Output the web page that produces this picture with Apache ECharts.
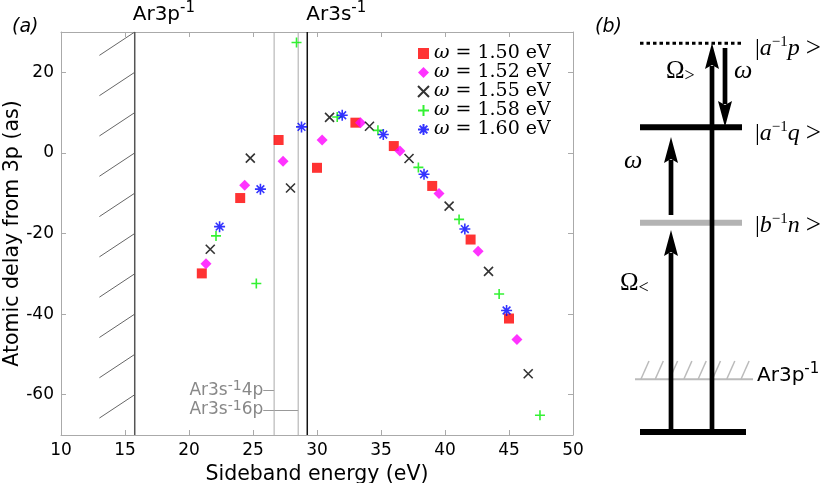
<!DOCTYPE html>
<html><head><meta charset="utf-8">
<script src="https://cdn.jsdelivr.net/npm/echarts@6/dist/echarts.min.js"></script>
<style>html,body{margin:0;padding:0;background:#fff}#c{width:831px;height:483px}</style>
</head><body><div id="c"></div>
<script>
// ---- data ----
const omegaLabels = ['1.50', '1.52', '1.55', '1.58', '1.60'];
const e150 = [21.0, 24.0, 27.0, 30.0, 33.0, 36.0, 39.0, 42.0, 45.0];
const d150 = [-29.9, -11.2, 3.2, -3.7, 7.5, 1.7, -8.2, -21.5, -41.1];
const e152 = [21.33, 24.35, 27.35, 30.4, 33.4, 36.48, 39.53, 42.59, 45.62];
const d152 = [-27.5, -8.0, -2.1, 3.2, 7.5, 0.5, -10.1, -24.4, -46.3];
const e155 = [21.66, 24.79, 27.93, 30.98, 34.1, 37.19, 40.32, 43.4, 46.5];
const d155 = [-23.9, -1.3, -8.7, 8.8, 6.6, -1.4, -13.2, -29.4, -54.8];
const e158 = [22.11, 25.26, 28.4, 31.58, 34.76, 37.92, 41.1, 44.23, 47.42];
const d158 = [-20.6, -32.4, 27.4, 8.9, 5.6, -3.6, -16.5, -35.0, -65.1];
const e160 = [22.39, 25.58, 28.79, 31.97, 35.18, 38.36, 41.55, 44.81];
const d160 = [-18.3, -9.0, 6.45, 9.35, 4.55, -5.3, -18.9, -39.1];
const thresholdX = [15.76, 29.24];        // Ar3p^-1, Ar3s^-1
const rydbergX = [26.65, 28.53];          // Ar3s^-1 4p, Ar3s^-1 6p
const rydbergLabelY = [-59.0, -63.8];
const rydbergLabelX = 25.8;
const hatchTops = [30, 20, 10, 0, -10, -20, -30, -40, -50, -60];
const yTicks = [-60, -40, -20, 0, 20];

// ---- chart ----
const chart = echarts.init(document.getElementById('c'));
const SANS = 'DejaVu Sans';
const SERIF = 'Liberation Serif';
const LSERIF = 'DejaVu Serif';
const colors = ['#ff0000', '#ff00ff', '#000000', '#00ee00', '#0000ff'];
const symbols = ['rect', 'diamond',
  'path://M0,0L10,10M10,0L0,10',
  'path://M5,0L5,10M0,5L10,5',
  'path://M5,0L5,10M0,5L10,5M1.5,1.5L8.5,8.5M8.5,1.5L1.5,8.5'];
const sizes = [10, 11, 9, 10, 11];
const xs = [e150, e152, e155, e158, e160];
const ys = [d150, d152, d155, d158, d160];

const scatterSeries = omegaLabels.map((w, i) => {
  const stroked = i >= 2;
  return {
    type: 'scatter', name: w,
    data: xs[i].map((x, k) => [x, ys[i][k]]),
    symbol: symbols[i], symbolSize: sizes[i], z: 5,
    itemStyle: stroked ? { color: 'rgba(0,0,0,0)', borderColor: colors[i], borderWidth: 1.6 }
                       : { color: colors[i] }
  };
});

const vline = (x, color, width) => ({
  type: 'line', data: [[x, -70], [x, 30]], symbol: 'none', silent: true, z: 2,
  lineStyle: { color: color, width: width }, animation: false
});

const axisCommon = {
  type: 'value',
  axisLine: { show: true, onZero: false, lineStyle: { color: '#aaaaaa', width: 1 } },
  axisTick: { show: true, inside: true, length: 5, lineStyle: { color: '#aaaaaa' } },
  splitLine: { show: false }
};

const option = {
  animation: false,
  grid: { left: 61, right: 258, top: 32, bottom: 48, containLabel: false, outerBoundsMode: 'none' },
  xAxis: [
    Object.assign({}, axisCommon, {
      min: 10, max: 50, interval: 5, position: 'bottom',
      axisLabel: { color: '#000', fontSize: 17, fontFamily: SANS, margin: 7 },
      name: 'Sideband energy (eV)', nameLocation: 'middle', nameGap: 29, nameMoveOverlap: false,
      nameTextStyle: { color: '#000', fontSize: 20.5, fontFamily: SANS }
    }),
    Object.assign({}, axisCommon, { min: 10, max: 50, interval: 5, position: 'top', axisLabel: { show: false } })
  ],
  yAxis: [
    Object.assign({}, axisCommon, {
      min: -70, max: 30, position: 'left',
      axisLabel: { color: '#000', fontSize: 17, fontFamily: SANS, margin: 7, customValues: yTicks },
      axisTick: { show: true, inside: true, length: 5, lineStyle: { color: '#aaaaaa' }, customValues: yTicks },
      name: 'Atomic delay from 3p (as)', nameLocation: 'middle', nameGap: 38, nameMoveOverlap: false,
      nameTextStyle: { color: '#000', fontSize: 20.5, fontFamily: SANS }
    }),
    Object.assign({}, axisCommon, {
      min: -70, max: 30, position: 'right', axisLabel: { show: false },
      axisTick: { show: true, inside: true, length: 5, lineStyle: { color: '#aaaaaa' }, customValues: yTicks }
    })
  ],
  legend: {
    orient: 'vertical', left: 417, top: 44, itemGap: 0, itemWidth: 11, itemHeight: 11,
    padding: 0, selectedMode: false,
    data: omegaLabels.map((w, i) => ({ name: w, icon: symbols[i] })),
    formatter: (n) => '{i|ω} = ' + n + ' eV',
    textStyle: {
      fontSize: 19, fontFamily: LSERIF, color: '#000', lineHeight: 19,
      rich: { i: { fontStyle: 'italic', fontSize: 19, fontFamily: LSERIF, lineHeight: 19 } }
    }
  },
  series: [
    vline(thresholdX[0], '#555555', 1.5),
    vline(thresholdX[1], '#111111', 1.5),
    vline(rydbergX[0], '#aaaaaa', 1),
    vline(rydbergX[1], '#aaaaaa', 1),
    {
      type: 'lines', coordinateSystem: 'cartesian2d', silent: true, z: 2,
      lineStyle: { color: '#666666', width: 1, opacity: 1 },
      data: hatchTops.map(t => ({ coords: [[13.0, t - 5.8], [thresholdX[0], t]] }))
    },
    {
      type: 'lines', coordinateSystem: 'cartesian2d', silent: true, z: 2,
      lineStyle: { color: '#999999', width: 1, opacity: 1 },
      data: rydbergX.map((x, i) => ({ coords: [[rydbergLabelX, rydbergLabelY[i]], [x, rydbergLabelY[i]]] }))
    }
  ].concat(scatterSeries)
};
chart.setOption(option);

// ---- annotations ----
const supRich = (size, supSize, lh, color, family) => ({
  n: { fontSize: size, fontFamily: family, fill: color, lineHeight: lh },
  s: { fontSize: supSize, fontFamily: family, fill: color, lineHeight: supSize, verticalAlign: 'top' }
});
const gEls = [];
const txt = (x, y, text, rich, align) => gEls.push({
  type: 'text', x: x, y: y, z: 10,
  style: { text: text, rich: rich, align: align || 'left', verticalAlign: 'middle' }
});

// panel (a)
gEls.push({ type: 'text', x: 12, y: 27, style: { text: '(a)', fontSize: 19, fontFamily: SANS, fontStyle: 'italic', fill: '#000', verticalAlign: 'middle' } });
const p3p = chart.convertToPixel({ gridIndex: 0 }, [thresholdX[0], 30]);
const p3s = chart.convertToPixel({ gridIndex: 0 }, [thresholdX[1], 30]);
txt(p3p[0] - 2, 15, '{n|Ar3p}{s|-1}', supRich(20, 15, 28, '#000', SANS));
txt(p3s[0] - 1, 15, '{n|Ar3s}{s|-1}', supRich(20, 15, 28, '#000', SANS));
['4p', '6p'].forEach((lvl, i) => {
  const p = chart.convertToPixel({ gridIndex: 0 }, [rydbergLabelX, rydbergLabelY[i]]);
  txt(p[0], p[1], '{n|Ar3s}{s|-1}{n|' + lvl + '}', supRich(17, 14, 22, '#888888', SANS), 'right');
});

// panel (b)
gEls.push({ type: 'text', x: 595, y: 27, style: { text: '(b)', fontSize: 19, fontFamily: SANS, fontStyle: 'italic', fill: '#000', verticalAlign: 'middle' } });
const hl = (x1, x2, y, color, w, dash) => gEls.push({
  type: 'line', shape: { x1: x1, y1: y, x2: x2, y2: y },
  style: { stroke: color, lineWidth: w, lineDash: dash || null }
});
const arrow = (x, yFrom, yTip) => {
  const dir = yTip < yFrom ? 1 : -1;     // 1 = upward
  const hlen = 26, hw = 7;
  const base = yTip + dir * hlen;
  gEls.push({ type: 'line', shape: { x1: x, y1: yFrom, x2: x, y2: base - dir * 3 }, style: { stroke: '#000', lineWidth: 4.7 } });
  gEls.push({ type: 'polygon', shape: { points: [[x, yTip], [x - hw, base], [x, base - dir * 4], [x + hw, base]] }, style: { fill: '#000' } });
};
hl(640, 742, 43.3, '#000', 3, [3.5, 3]);
hl(640, 742, 127.3, '#000', 6);
hl(640, 742, 222.7, '#b3b3b3', 6);
hl(635, 753, 379.3, '#bbbbbb', 2);
for (let k = 0; k < 8; k++) {
  const bx = 641 + 14.3 * k;
  gEls.push({ type: 'line', shape: { x1: bx, y1: 379, x2: bx + 8, y2: 361 }, style: { stroke: '#bbbbbb', lineWidth: 1.5 } });
}
hl(640, 746, 432, '#000', 6);
arrow(712, 432, 43);
arrow(725, 48, 127);
arrow(671, 215, 137);
arrow(671, 432, 230);

const mathRich = {
  r: { fontSize: 24, fontFamily: SERIF, fill: '#000', lineHeight: 28 },
  g: { fontSize: 27, fontFamily: SERIF, fill: '#000', lineHeight: 28 },
  i: { fontSize: 24, fontFamily: SERIF, fontStyle: 'italic', fill: '#000', lineHeight: 28 },
  s: { fontSize: 15, fontFamily: SERIF, fill: '#000', lineHeight: 15, verticalAlign: 'top' },
  w: { fontSize: 26, fontFamily: SERIF, fontStyle: 'italic', fill: '#000', lineHeight: 28 },
  O: { fontSize: 25, fontFamily: SERIF, fill: '#000', lineHeight: 28 },
  b: { fontSize: 18, fontFamily: SERIF, fill: '#000', lineHeight: 18, verticalAlign: 'bottom' }
};
txt(755, 49, '{r||}{i|a}{s|−1}{i|p}{r| }{g|>}', mathRich);
txt(755, 134, '{r||}{i|a}{s|−1}{i|q}{r| }{g|>}', mathRich);
txt(755, 226, '{r||}{i|b}{s|−1}{i|n}{r| }{g|>}', mathRich);
txt(666, 71, '{O|Ω}{b|>}', mathRich);
txt(620, 283, '{O|Ω}{b|<}', mathRich);
txt(734, 71, '{w|ω}', mathRich);
txt(624, 161, '{w|ω}', mathRich);
txt(757, 376, '{n|Ar3p}{s|-1}', supRich(20, 15, 28, '#000', SANS));

chart.setOption({ graphic: { elements: gEls } });
</script></body></html>
